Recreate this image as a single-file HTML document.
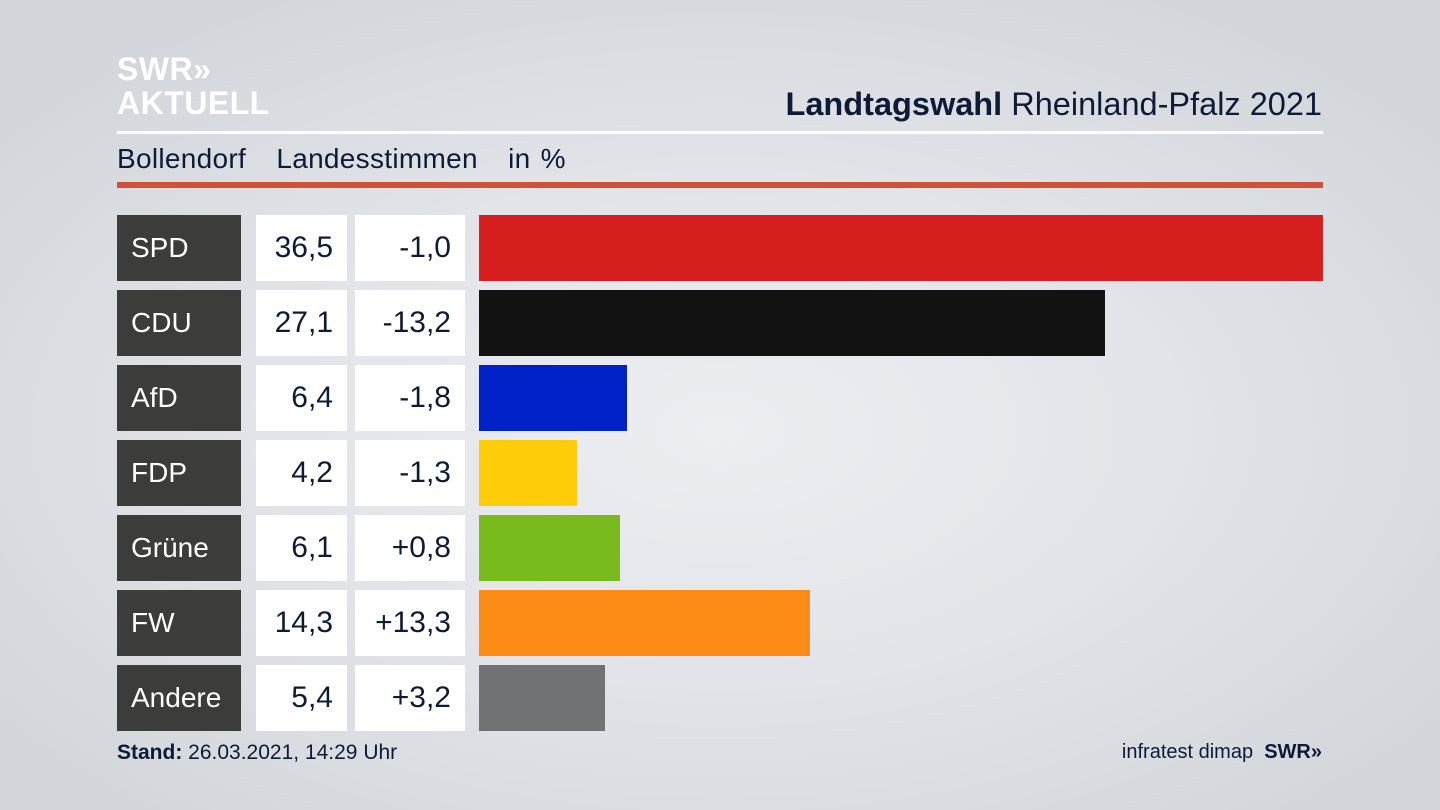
<!DOCTYPE html>
<html><head><meta charset="utf-8"><style>
body{margin:0;width:1440px;height:810px;overflow:hidden;font-family:"Liberation Sans",sans-serif;color:#0d1b36;
background:radial-gradient(ellipse 900px 500px at 720px 430px,#eceef2 0%,#e2e4e9 50%,#d3d6db 100%);position:relative}
.a{position:absolute}
.lab{background:#3c3c3b;color:#fff;font-size:28px;line-height:66px;padding-left:14px;box-sizing:border-box;width:124px;height:66px;left:117px}
.v{background:#fff;font-size:30px;line-height:66px;text-align:right;height:66px;box-sizing:border-box;padding-right:14px}
</style></head><body>
<div class="a" style="left:117px;top:52px;color:#fff;font-weight:bold;font-size:32px;line-height:34px;letter-spacing:0.5px">SWR&#187;<br>AKTUELL</div>
<div class="a" style="right:118px;top:86px;font-size:32.5px"><b>Landtagswahl</b> Rheinland-Pfalz 2021</div>
<div class="a" style="left:117px;top:131px;width:1206px;height:3px;background:#fff"></div>
<div class="a" style="left:117px;top:143px;font-size:28px;word-spacing:2px;letter-spacing:0.3px">Bollendorf&nbsp;&nbsp; Landesstimmen &nbsp; in %</div>
<div class="a" style="left:117px;top:182px;width:1206px;height:6px;background:#d0513a"></div>

<div class="a lab" style="top:215px">SPD</div><div class="a v" style="top:215px;left:256px;width:91px">36,5</div><div class="a v" style="top:215px;left:355px;width:110px">-1,0</div><div class="a" style="top:215px;left:479px;width:844px;height:66px;background:#d61f1f"></div>
<div class="a lab" style="top:290px">CDU</div><div class="a v" style="top:290px;left:256px;width:91px">27,1</div><div class="a v" style="top:290px;left:355px;width:110px">-13,2</div><div class="a" style="top:290px;left:479px;width:626px;height:66px;background:#121212"></div>
<div class="a lab" style="top:365px">AfD</div><div class="a v" style="top:365px;left:256px;width:91px">6,4</div><div class="a v" style="top:365px;left:355px;width:110px">-1,8</div><div class="a" style="top:365px;left:479px;width:148px;height:66px;background:#0020c8"></div>
<div class="a lab" style="top:440px">FDP</div><div class="a v" style="top:440px;left:256px;width:91px">4,2</div><div class="a v" style="top:440px;left:355px;width:110px">-1,3</div><div class="a" style="top:440px;left:479px;width:98px;height:66px;background:#fecc09"></div>
<div class="a lab" style="top:515px">Grüne</div><div class="a v" style="top:515px;left:256px;width:91px">6,1</div><div class="a v" style="top:515px;left:355px;width:110px">+0,8</div><div class="a" style="top:515px;left:479px;width:141px;height:66px;background:#79bb1c"></div>
<div class="a lab" style="top:590px">FW</div><div class="a v" style="top:590px;left:256px;width:91px">14,3</div><div class="a v" style="top:590px;left:355px;width:110px">+13,3</div><div class="a" style="top:590px;left:479px;width:331px;height:66px;background:#fd8c16"></div>
<div class="a lab" style="top:665px">Andere</div><div class="a v" style="top:665px;left:256px;width:91px">5,4</div><div class="a v" style="top:665px;left:355px;width:110px">+3,2</div><div class="a" style="top:665px;left:479px;width:126px;height:66px;background:#717274"></div>

<div class="a" style="left:117px;top:741px;font-size:21px"><b>Stand:</b> 26.03.2021, 14:29 Uhr</div>
<div class="a" style="right:118px;top:741px;font-size:20px">infratest dimap &nbsp;<b>SWR&#187;</b></div>
</body></html>
